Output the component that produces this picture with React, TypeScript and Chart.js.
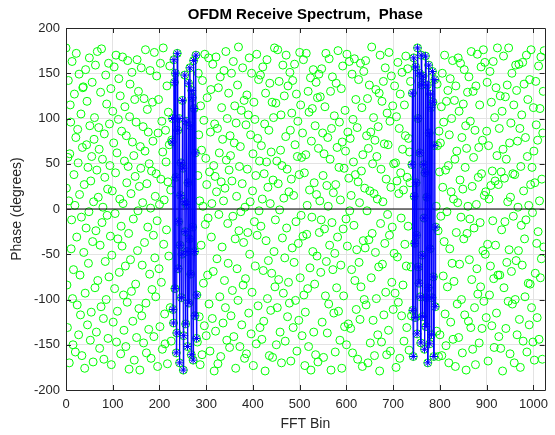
import React, { useEffect, useRef } from "react";
import { Chart, registerables } from "chart.js";

Chart.register(...registerables);

// Phase (degrees) of every FFT bin (noise bins)
const noisePhase: number[] = [
  178, 23, -84, -131, 57, 142, 9, -170, 61, 115, 96, -44, -12, 163, -99, -150, -67, 38, 127, 4, -158, 79, 172, -31, -106, 88, 51, -139, 149, 16, -73, -117,
  105, -9, -162, 68, 134, 135, -48, 27, -176, -93, 154, -21, 71, 119, -128, 46, -60, -3, 167, 92, -145, 31, -114, 58, 140, -36, -169, 8, 77, 101, -87, 159,
  -24, -136, 43, 174, -79, 13, 90, 66, -154, -40, 129, -108, 177, -15, 55, 2, -121, -166, 83, 35, -58, 148, -100, 116, -7, 22, -143, 161, -75, 94, 48, -30,
  133, -172, -51, 20, 108, -125, 73, 157, -88, -5, 40, 170, -147, 62, -113, -33, 99, 144, -70, 11, 125, -160, -19, 86, -41, 168, 6, -95, -134, 53, 113, -63,
  -152, 81, 29, -103, 164, 47, -27, -177, 102, 138, -56, 17, -91, 151, 74, -124, -11, 59, -167, 121, 36, -83, 96, -142, 165, -46, -2, 130, -110, 25, -178, 69,
  45, 156, -118, -62, 7, 91, -148, 122, -37, 64, 176, -104, -159, 28, 110, -20, 85, -133, 50, -72, 153, 1, -165, 42, -89, 118, 75, -29, -141, 173, -54, 14,
  -97, 39, 147, -13, -174, 84, 121, -66, 5, -130, 161, 33, -81, 97, -155, 63, 178, -39, 10, -116, -149, 87, 52, -23, 136, -171, 30, 107, -52, 71, 158, -109,
  21, -146, 76, 112, -35, -163, 49, 169, -94, 18, 124, -127, 61, -8, -71, 145, -175, 92, 34, -61, 117, -137, 4, 155, -45, 80, -102, 26, 166, -150, -18, 98,
  -64, 131, -177, 58, 24, -112, 175, 72, -47, -154, 88, 13, 139, -86, 45, -166, 103, -26, -133, 67, 162, 19, -98, 126, -58, -147, 37, 150, 82, -119, 9, -172,
  114, -40, 65, -161, 142, 3, -82, 98, -129, 171, -17, 56, -140, 27, 123, -73, -10, 167, -105, 41, -157, 85, 132, -31, 6, -121, 160, -69, 48, -179, 94, 36,
  -135, 168, 19, -55, 89, -171, 134, -6, 62, -97, 146, -163, 30, 112, -42, 77, -126, 9, 153, -79, 23, -109, 174, 54, -145, 100, -16, -60, 128, 43, -153, 81,
  59, -118, 150, 31, -90, -8, 163, -141, 73, 114, -33, -176, 95, 14, -66, 137, -101, 179, -24, 47, -152, 69, -3, 109, -128, 28, 156, -84, -37, 120, -165, 2,
  -77, 93, -160, 126, 44, -26, 104, -115, 167, -50, 8, 82, -138, 150, -92, 20, 61, -173, 118, -14, 99, -63, 37, -149, 171, -29, 78, -107, 143, -2, 53, -131,
  148, -19, 70, -144, 11, 157, -68, -124, 39, 94, -179, 128, -35, 52, 165, -99, 24, -57, 87, -162, 139, 6, -112, 63, -71, 118, -164, 32, 101, -47, 178, -86,
  -12, 117, -150, 53, -109, 176, 28, -78, 141, -1, -136, 65, 104, -170, 48, -32, 159, -93, 12, 125, -54, -146, 80, 170, -21, 44, -119, 136, -81, 19, -104, 151,
  87, -168, 33, 106, -43, 142, -131, 15, -59, 160, 71, -101, -14, 127, -157, 58, 97, -38, -123, 38, 173, -76, 115, -7, 57, -140, 84, -30, 165, -95, 40, -173,
  -114, 60, 172, -28, 4, -88, 130, -152, 107, 21, -65, 145, -178, 75, -9, 111, -47, 154, -136, 29, -83, 92, -161, 140, 16, -52, 123, -169, 67, 149, -26, 9,
  124, -70, -12, 155, -125, 84, 37, -164, 61, -22, 113, -96, 172, -58, 26, -137, 79, 3, -105, 166, -40, 55, 130, -178, 89, -15, 146, -67, 18, -115, 103, -49,
  -158, 27, 139, -87, 68, -31, 175, -113, 46, 96, -145, 10, -62, 133, -176, 74, 158, -22, -96, 45, -130, 109, 64, -11, -150, 171, -41, 85, -127, 34, 163, -2,
  78, -132, 15, -67, 149, -159, 99, 52, -18, 166, -79, 38, 121, -111, -45, 90, -166, 30, 143, -59, 7, -122, 161, -86, 42, 112, -174, 60, -35, 152, -100, 23,
  -43, 164, -106, 81, -2, 122, -170, 67, -34, 137, 20, -148, 85, -76, 179, -27, 50, -123, 101, 17, -162, 76, -48, 132, -99, 58, 11, -139, 91, -64, 128, -179,
  170, -16, 44, -147, 119, -61, 8, 141, -117, 72, -38, 156, -92, 33, -161, 106, -6, 71, -134, 173, -29, 97, -157, 24, 147, -81, -20, 114, -111, 50, -49, 136,
  -93, 51, -175, 102, 31, -53, 162, -103, 17, 89, -165, 127, 40, -10, -118, 151, 66, -84, 21, -146, 115, -39, 81, 169, -63, -131, 35, 155, -19, 78, -156, 63,
  29, 141, -64, -118, 174, 9, -96, 60, 132, -142, 45, -23, 103, -173, 74, 14, -53, 149, -82, 120, -168, 36, -5, -110, 124, 51, -90, -167, 109, -41, 167, -7,
  102, -122, 37, 158, -48, -17, 117, -177, 83, -64, 12, 144, -127, 56, -91, 167, -30, 93, -143, 27, 63, -101, 176, -57, 3, -135, 138, 70, -24, -163, 86, 41,
  -139, 73, -8, 113, -162, 150, 24, -74, 96, -36, 170, -116, 43, -151, 119, -3, -86, 131, 48, -170, 82, -44, 144, -125, 19, 100, -60, 164, -144, 11, -80, 120,
  55, -174, 136, -26, 64, -105, 7, 167, -142, 108, -61, 32, 161, -9, -100, 79, -159, 22, 116, -33, 154, -117, 46, 92, -178, 67, -27, 129, 3, -124, 146, -56,
  -11, 97, -131, 174, -78, 25, -155, 130, 57, -21, -109, 87, -172, 136, 5, -66, 171, -94, 35, 68, -148, 115, -15, -86, 157, 39, -132, 76, -46, 176, -102, 15,
  162, -50, 19, -120, 86, 140, -39, -168, 70, 11, -95, 152, -63, 26, 118, -129, 42, -13, 163, -77, -153, 101, 31, -40, 134, -115, 59, 178, -73, 27, -141, 89,
  -73, 125, -154, 41, -23, 108, -179, 66, 169, -87, 34, -14, 124, -132, 55, -59, 137, 8, -102, 178, -45, 73, -160, 13, 95, -69, 150, -105, 39, -8, 115, -170,
  38, -100, 159, -57, 131, -139, 75, 2, -46, 160, -122, 89, -175, 47, -18, 104, -62, 162, -146, 20, 138, -33, -97, 79, -12, 170, -158, 58, 121, -82, 4, -128,
  143, -83, 27, 176, -109, 46, -4, -147, 112, 64, -167, 29, -71, 141, 93, -38, -120, 76, -25, 158, -144, 9, 111, -76, 168, -55, 33, -166, 84, 130, -42, 175,
];

// Occupied sub-carrier bands (blue trace)
const band1Start = 227;
const band1Phase: number[] = [
  74, 100, -111, -126, 165, 140, -88, 150, 35, -159, -137, 172, 87, -66, -14, 100, -170, -40, 15, 51,
  -98, -50, 120, 45, -178, -140, 8, 148, -25, -127, 97, 5, -47, -152, 29, 139, -104, -33, 156, 92,
  -72, -161, 131, 123, -20, -167, 164, 111, -47, -118, 62, 170, -143, -95,
];
const band2Start = 740;
const band2Phase: number[] = [
  49, 128, -112, -163, 167, 14, -38, -120, 157, 29, -29, -138, 178, 100, -64, -82, 150, 62, -97, -148,
  170, 137, -51, -119, 147, 49, -10, -155, 40, 169, -130, -98, 13, 137, -170, -87, 159, 84, -149, -44,
  127, 112, -139, -98, 152, 118, -75, -163, 70, 143, -108, -20,
];

const fftSize = 1024;
const xTicks = [0, 100, 200, 300, 400, 500, 600, 700, 800, 900, 1000];
const yTicks = [-200, -150, -100, -50, 0, 50, 100, 150, 200];
const zeroLine = [0, 0];

const titleText = "OFDM Receive Spectrum,  Phase";
const xTitle = "FFT Bin";
const yTitle = "Phase (degrees)";

const FONT = "'Liberation Sans', Arial, Helvetica, sans-serif";
const AXIS_COLOR = "#262626";

export default function App() {
  const ref = useRef<HTMLCanvasElement>(null);

  useEffect(() => {
    document.body.style.margin = "0";
    const canvas = ref.current;
    if (!canvas) return;

    const phase = noisePhase.slice(0, fftSize);
    band1Phase.forEach((v, i) => (phase[band1Start + i] = v));
    band2Phase.forEach((v, i) => (phase[band2Start + i] = v));

    const greenData = phase.map((v, i) => ({ x: i, y: v }));
    const blue1 = band1Phase.map((v, i) => ({ x: band1Start + i, y: v }));
    const blue2 = band2Phase.map((v, i) => ({ x: band2Start + i, y: v }));
    const zeroData = [
      { x: 0, y: zeroLine[0] },
      { x: fftSize, y: zeroLine[1] },
    ];

    const framePlugin = {
      id: "frame",
      afterDraw(chart: any) {
        const { ctx, chartArea } = chart;
        const { left, right, top, bottom } = chartArea;
        const xs = chart.scales.x;
        const ys = chart.scales.y;
        ctx.save();
        ctx.strokeStyle = AXIS_COLOR;
        ctx.lineWidth = 1;
        ctx.beginPath();
        ctx.rect(Math.round(left) + 0.5, Math.round(top) + 0.5, Math.round(right - left), Math.round(bottom - top));
        ctx.stroke();
        const tl = 5;
        ctx.beginPath();
        xTicks.forEach((v) => {
          const px = Math.round(xs.getPixelForValue(v)) + 0.5;
          ctx.moveTo(px, bottom);
          ctx.lineTo(px, bottom - tl);
          ctx.moveTo(px, top);
          ctx.lineTo(px, top + tl);
        });
        yTicks.forEach((v) => {
          const py = Math.round(ys.getPixelForValue(v)) + 0.5;
          ctx.moveTo(left, py);
          ctx.lineTo(left + tl, py);
          ctx.moveTo(right, py);
          ctx.lineTo(right - tl, py);
        });
        ctx.stroke();

        ctx.fillStyle = "#000000";
        ctx.textAlign = "center";
        ctx.textBaseline = "middle";
        ctx.font = `bold 15px ${FONT}`;
        ctx.fillText(titleText, (left + right) / 2, 15);

        ctx.fillStyle = AXIS_COLOR;
        ctx.font = `14px ${FONT}`;
        ctx.fillText(xTitle, (left + right) / 2, 424);

        ctx.save();
        ctx.translate(17, (top + bottom) / 2);
        ctx.rotate(-Math.PI / 2);
        ctx.fillText(yTitle, 0, 0);
        ctx.restore();
        ctx.restore();
      },
    };

    const blueStyle = {
      showLine: true,
      borderColor: "#0000ff",
      borderWidth: 1,
      pointStyle: "star",
      pointRadius: 4,
      pointBorderColor: "#0000ff",
      pointBorderWidth: 1,
      pointBackgroundColor: "#0000ff",
      order: 0,
    };

    const chart = new Chart(canvas, {
      type: "scatter",
      data: {
        datasets: [
          { label: "signal1", data: blue1, ...blueStyle },
          { label: "signal2", data: blue2, ...blueStyle },
          {
            label: "zero",
            data: zeroData,
            showLine: true,
            borderColor: "#000000",
            borderWidth: 1,
            pointRadius: 0,
            order: 1,
          },
          {
            label: "all bins",
            data: greenData,
            showLine: false,
            pointStyle: "circle",
            pointRadius: 4,
            pointBorderColor: "#00ff00",
            pointBackgroundColor: "rgba(0,0,0,0)",
            pointBorderWidth: 1,
            order: 2,
          },
        ],
      } as any,
      options: {
        responsive: false,
        maintainAspectRatio: false,
        animation: false,
        events: [],
        layout: { padding: { top: 28, right: 4, left: 0, bottom: 0 } },
        plugins: {
          legend: { display: false },
          tooltip: { enabled: false },
          title: { display: false },
        },
        scales: {
          x: {
            type: "linear",
            min: 0,
            max: fftSize,
            afterBuildTicks: (s: any) => {
              s.ticks = xTicks.map((v) => ({ value: v }));
            },
            afterFit: (s: any) => {
              s.height = 45;
            },
            ticks: {
              autoSkip: false,
              maxRotation: 0,
              padding: 7,
              color: AXIS_COLOR,
              font: { family: FONT, size: 13 },
              callback: (v: any) => String(v),
            },
            grid: { color: "#e3e3e3", drawTicks: false, lineWidth: 1 },
            border: { display: false },
          },
          y: {
            type: "linear",
            min: -200,
            max: 200,
            afterBuildTicks: (s: any) => {
              s.ticks = yTicks.map((v) => ({ value: v }));
            },
            afterFit: (s: any) => {
              s.width = 66;
            },
            ticks: {
              autoSkip: false,
              padding: 6,
              color: AXIS_COLOR,
              font: { family: FONT, size: 13 },
              callback: (v: any) => String(v),
            },
            grid: { color: "#e3e3e3", drawTicks: false, lineWidth: 1 },
            border: { display: false },
          },
        },
      } as any,
      plugins: [framePlugin],
    });

    return () => chart.destroy();
  }, []);

  return (
    <div style={{ width: 555, height: 435 }}>
      <canvas ref={ref} width={555} height={435} style={{ display: "block", width: 555, height: 435 }} />
    </div>
  );
}
